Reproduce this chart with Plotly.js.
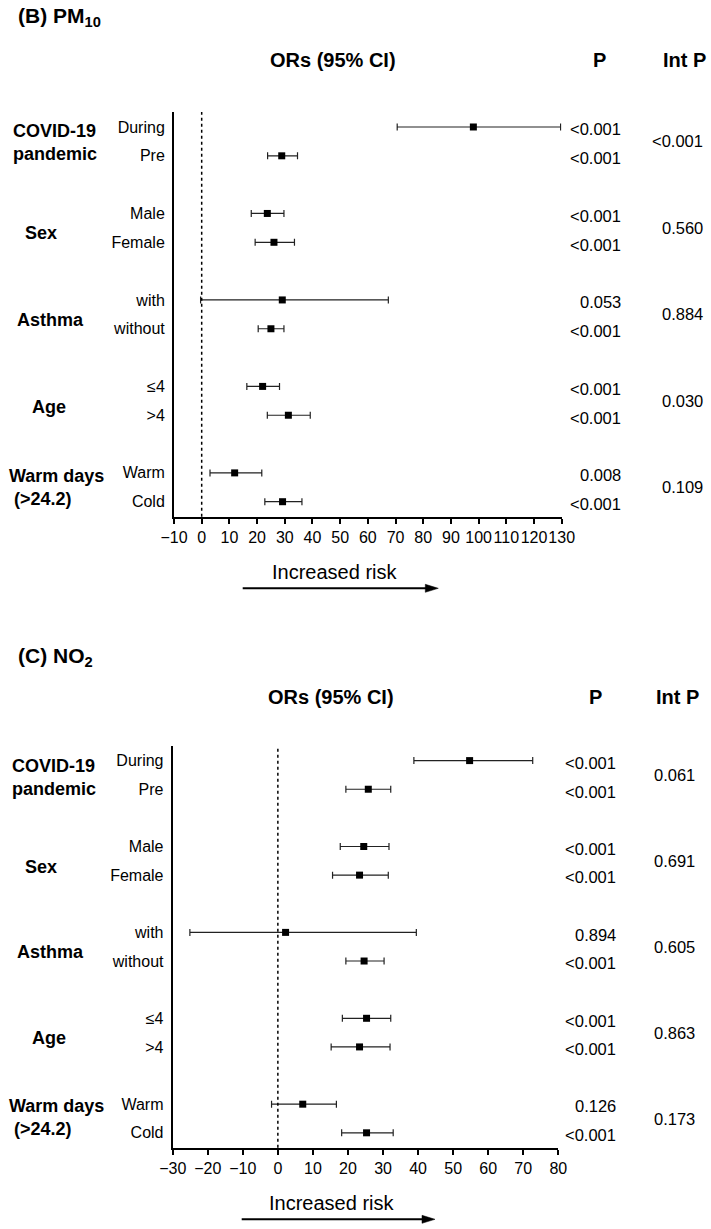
<!DOCTYPE html>
<html>
<head>
<meta charset="utf-8">
<script src="https://cdn.plot.ly/plotly-3.0.1.min.js"></script>
<style>html,body{margin:0;padding:0;background:#fff;}#chart{width:711px;height:1229px;}</style>
</head>
<body>
<div id="chart"></div>
<script>
// ---- data ----
var rowLabels = ["During", "Pre", "Male", "Female", "with", "without", "≤4", ">4", "Warm", "Cold"];
var groupLabels = ["COVID-19<br>pandemic", "Sex", "Asthma", "Age", "Warm days<br>\u00a0(>24.2)"];

var pm10Or = [98.1, 28.9, 23.7, 26.1, 29.1, 25.0, 22.0, 31.3, 11.9, 29.2];
var pm10Lo = [70.6, 23.8, 17.9, 19.3, -0.4, 20.4, 16.3, 23.7, 3.0, 22.8];
var pm10Hi = [129.6, 34.6, 29.7, 33.5, 67.4, 29.7, 28.1, 39.2, 21.7, 36.2];
var pm10P = ["<0.001", "<0.001", "<0.001", "<0.001", "0.053", "<0.001", "<0.001", "<0.001", "0.008", "<0.001"];
var pm10IntP = ["<0.001", "0.560", "0.884", "0.030", "0.109"];
var pm10Ticks = [-10, 0, 10, 20, 30, 40, 50, 60, 70, 80, 90, 100, 110, 120, 130];

var no2Or = [54.7, 25.8, 24.5, 23.3, 2.2, 24.6, 25.3, 23.3, 7.1, 25.3];
var no2Lo = [38.8, 19.4, 17.8, 15.6, -25.1, 19.4, 18.4, 15.2, -1.8, 18.2];
var no2Hi = [72.7, 32.2, 31.7, 31.5, 39.5, 30.3, 32.2, 32.0, 16.7, 32.9];
var no2P = ["<0.001", "<0.001", "<0.001", "<0.001", "0.894", "<0.001", "<0.001", "<0.001", "0.126", "<0.001"];
var no2IntP = ["0.061", "0.691", "0.605", "0.863", "0.173"];
var no2Ticks = [-30, -20, -10, 0, 10, 20, 30, 40, 50, 60, 70, 80];

// ---- layout helpers ----
var W = 711, H = 1229;
var FONT = "Liberation Sans, Arial, Helvetica, sans-serif";
function px(x) { return x / W; }
function py(y) { return 1 - y / H; }
// row position: 3 slots per group, 2 rows per group
var rowPos = rowLabels.map(function (_, i) { return Math.floor(i / 2) * 3 + (i % 2); });
var groupMid = groupLabels.map(function (_, g) { return g * 3 + 0.5; });

function trace(orv, lo, hi, xa, ya) {
  return {
    type: "scatter", mode: "markers", xaxis: xa, yaxis: ya,
    x: orv, y: rowPos,
    error_x: {
      type: "data", symmetric: false,
      array: orv.map(function (v, i) { return hi[i] - v; }),
      arrayminus: orv.map(function (v, i) { return v - lo[i]; }),
      color: "#222", thickness: 1.2, width: 3.5
    },
    marker: { symbol: "square", size: 7, color: "#000" },
    hoverinfo: "skip", showlegend: false, cliponaxis: false
  };
}

var panels = [
  { title: "<b>(B) PM<sub>10</sub></b>", titleY: 17, hdrY: 60, orX: 332.5, pX: 599, ipX: 684,
    pRight: 622.7, ipRight: 705, riskX: 334, riskY: 572, arrowY: 588.3, arrowX0: 242.7, arrowX1: 438.3,
    xa: "x", ya: "y", p: pm10P, ip: pm10IntP,
    groupX: [10.7, 23, 15, 29.5, 6.7], groupY: [0.55, 3.69, 6.7, 9.7, 12.5] },
  { title: "<b>(C) NO<sub>2</sub></b>", titleY: 656.7, hdrY: 697, orX: 331, pX: 595, ipX: 677.5,
    pRight: 618.3, ipRight: 697, riskX: 331.7, riskY: 1203.3, arrowY: 1219.3, arrowX0: 241.7, arrowX1: 435,
    xa: "x2", ya: "y2", p: no2P, ip: no2IntP,
    groupX: [9.5, 22.7, 15, 29.5, 6.8], groupY: [0.59, 3.7, 6.67, 9.7, 12.47] }
];

var data = [trace(pm10Or, pm10Lo, pm10Hi, "x", "y"), trace(no2Or, no2Lo, no2Hi, "x2", "y2")];
var annotations = [];
var shapes = [];

panels.forEach(function (P) {
  annotations.push({ xref: "paper", yref: "paper", x: px(16), y: py(P.titleY), xanchor: "left", yanchor: "middle",
    text: P.title, showarrow: false, font: { family: FONT, size: 21, color: "#000" } });
  [["<b>ORs (95% CI)</b>", P.orX], ["<b>P</b>", P.pX], ["<b>Int P</b>", P.ipX]].forEach(function (h) {
    annotations.push({ xref: "paper", yref: "paper", x: px(h[1]), y: py(P.hdrY), xanchor: "center", yanchor: "middle",
      text: h[0], showarrow: false, font: { family: FONT, size: 20, color: "#000" } });
  });
  groupLabels.forEach(function (g, i) {
    annotations.push({ xref: "paper", yref: P.ya, x: px(P.groupX[i]), y: P.groupY[i], xanchor: "left", yanchor: "middle",
      align: "left", text: "<b>" + g + "</b>", showarrow: false, font: { family: FONT, size: 18, color: "#000" } });
  });
  P.p.forEach(function (t, i) {
    annotations.push({ xref: "paper", yref: P.ya, x: px(P.pRight), y: rowPos[i] + 0.08, xanchor: "right", yanchor: "middle",
      text: t, showarrow: false, font: { family: FONT, size: 16.5, color: "#000" } });
  });
  P.ip.forEach(function (t, i) {
    annotations.push({ xref: "paper", yref: P.ya, x: px(P.ipRight), y: groupMid[i], xanchor: "right", yanchor: "middle",
      text: t, showarrow: false, font: { family: FONT, size: 16.5, color: "#000" } });
  });
  annotations.push({ xref: "paper", yref: "paper", x: px(P.riskX), y: py(P.riskY), xanchor: "center", yanchor: "middle",
    text: "Increased risk", showarrow: false, font: { family: FONT, size: 20, color: "#000" } });
  // arrow: shaft line + filled triangular head
  shapes.push({ type: "line", xref: "paper", yref: "paper", x0: px(P.arrowX0), x1: px(P.arrowX1 - 8),
    y0: py(P.arrowY), y1: py(P.arrowY), line: { color: "#000", width: 2 } });
  var hx = px(P.arrowX1), bx = px(P.arrowX1 - 13), yc = py(P.arrowY), yu = py(P.arrowY - 4), yd = py(P.arrowY + 4);
  shapes.push({ type: "path", xref: "paper", yref: "paper",
    path: "M" + hx + "," + yc + " L" + bx + "," + yu + " L" + bx + "," + yd + " Z",
    fillcolor: "#000", line: { color: "#000", width: 0.5 } });
  shapes.push({ type: "line", xref: P.xa, yref: P.ya + " domain", x0: 0, x1: 0, y0: 0, y1: 1,
    line: { color: "#000", width: 1.5, dash: "dot" } });
});

function xAxis(domain, range, ticks, anchor) {
  return { domain: domain, range: range, anchor: anchor, tickvals: ticks, tickangle: 0, ticks: "outside", ticklen: 5, tickwidth: 2,
    tickcolor: "#000", showline: true, linewidth: 2, linecolor: "#000", showgrid: false, zeroline: false,
    tickfont: { family: FONT, size: 16, color: "#000" }, fixedrange: true };
}
function yAxis(domain, range, anchor) {
  return { domain: domain, range: range, anchor: anchor, tickvals: rowPos, ticktext: rowLabels, ticks: "outside",
    ticklen: 4, tickcolor: "rgba(0,0,0,0)", showline: true, linewidth: 2, linecolor: "#000", showgrid: false,
    zeroline: false, tickfont: { family: FONT, size: 16, color: "#000" }, fixedrange: true };
}

var layout = {
  width: W, height: H, margin: { l: 0, r: 0, t: 0, b: 0 }, paper_bgcolor: "#fff", plot_bgcolor: "#fff",
  showlegend: false,
  xaxis: xAxis([px(174), px(561.7)], [-10, 130], pm10Ticks, "y"),
  yaxis: yAxis([py(516.7), py(112)], [13.52, -0.52], "x"),
  xaxis2: xAxis([px(172.7), px(558.3)], [-30, 80], no2Ticks, "y2"),
  yaxis2: yAxis([py(1147.7), py(746)], [13.52, -0.51], "x2"),
  annotations: annotations, shapes: shapes
};

Plotly.newPlot("chart", data, layout, { displayModeBar: false, staticPlot: true });
</script>
</body>
</html>
